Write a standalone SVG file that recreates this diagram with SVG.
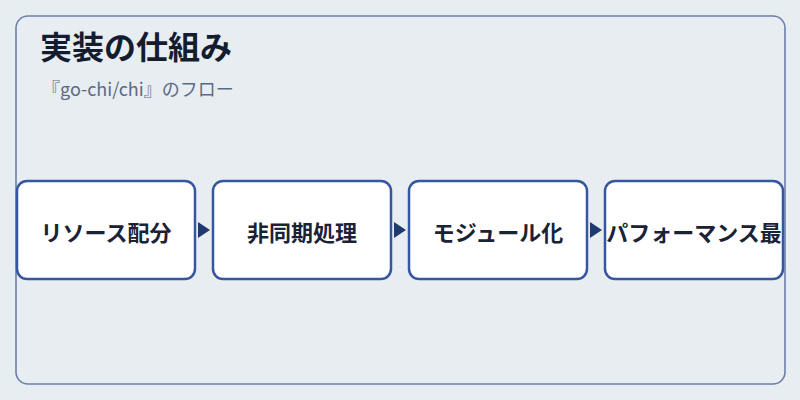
<svg xmlns="http://www.w3.org/2000/svg" width="800" height="400" viewBox="0 0 800 400">
<style>
.frame{fill:#e8edf2;stroke:#6a80aa;stroke-width:1.6}
.node rect{fill:#ffffff;stroke:#3657a0;stroke-width:2.5}
.node text{font-family:"Noto Sans CJK JP","Noto Sans",sans-serif;font-size:22px;font-weight:bold;fill:#1a2236;text-anchor:middle;dominant-baseline:central}
.title{font-family:"Noto Sans CJK JP","Noto Sans",sans-serif;font-size:32px;font-weight:bold;fill:#141d30}
.sub{font-family:"Noto Sans CJK JP","Noto Sans",sans-serif;font-size:18px;fill:#5a6a86}
.conn path{fill:#1f3a70}
</style>
<rect width="800" height="400" fill="#e8edf2"/>
<rect class="frame" x="16" y="16" width="769" height="368" rx="12"/>
<text class="title" x="40" y="59">実装の仕組み</text>
<text class="sub" x="42" y="96">『go-chi/chi』のフロー</text>
<g id="connectors" class="conn">
<path d="M198,222 L210,230 L198,238 Z"/>
<path d="M394,222 L406,230 L394,238 Z"/>
<path d="M590,222 L602,230 L590,238 Z"/>
</g>
<g id="node1" class="node"><rect x="17" y="181" width="178" height="98" rx="10"/><text x="106" y="231">リソース配分</text></g>
<g id="node2" class="node"><rect x="213" y="181" width="178" height="98" rx="10"/><text x="302" y="231">非同期処理</text></g>
<g id="node3" class="node"><rect x="409" y="181" width="178" height="98" rx="10"/><text x="498" y="231">モジュール化</text></g>
<g id="node4" class="node"><rect x="605" y="181" width="178" height="98" rx="10"/><text x="694" y="231">パフォーマンス最</text></g>
</svg>
